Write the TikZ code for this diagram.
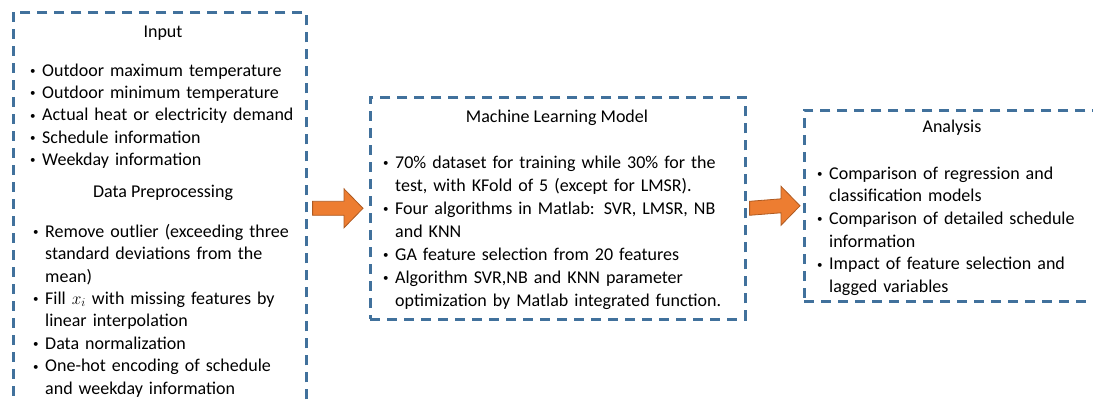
\documentclass[tikz,border=0pt]{standalone}
\usepackage{fontspec}
\setmainfont{Carlito}
\usepackage{xcolor}
\usetikzlibrary{arrows.meta,positioning,calc}

\definecolor{boxblue}{RGB}{65,113,156}
\definecolor{arroworange}{RGB}{237,125,49}
\definecolor{arrowedge}{RGB}{174,90,33}

% one bullet line with hanging indent
\newcommand{\bitem}[1]{\hangindent=13pt\hangafter=1\noindent\rule{0pt}{15pt}%
  \makebox[13pt][l]{\hspace{1pt}\raisebox{1.6pt}{\fontsize{11}{11}\selectfont\textbullet}}#1\par}

% block arrow from tail coordinate #1 to tip coordinate #2
\newcommand{\blockarrow}[2]{%
  \filldraw[flow] ($(#1)+(0,-7)$) -- ($(#2)+(-19,0)+(0,-7)$) -- ($(#2)+(-19,-19.5)$)
    -- (#2) -- ($(#2)+(-19,19.5)$) -- ($(#2)+(-19,0)+(0,7)$) -- ($(#1)+(0,7)$) -- cycle;}

\begin{document}
\begin{tikzpicture}[
  x=1pt,
  y=-1pt,
  dbox/.style={draw=boxblue, line width=2.6pt, dash pattern=on 10pt off 7pt, inner sep=0pt, anchor=north west},
  title/.style={font=\fontsize{18}{22.5}\selectfont, anchor=base, inner sep=0pt},
  items/.style={font=\fontsize{18}{#1}\selectfont, align=left, anchor=north west, inner sep=0pt},
  flow/.style={fill=arroworange, draw=arrowedge, line width=0.8pt, line join=miter}
]
\useasboundingbox (0,0) rectangle (1093,400);
\clip (0,0) rectangle (1093,400);

% Dashed frames.
\node[dbox, minimum width=293pt, minimum height=400pt] (input) at (12,11) {};
\node[dbox, minimum width=375pt, minimum height=222pt] (ml) at (369,96) {};
\node[dbox, minimum width=300pt, minimum height=191pt] (ana) at (803,109) {};

% Input and preprocessing.
\node[title] (inputtitle) at (163,37) {Input};
\node[items=22.3, text width=275pt] (inputlist) at (29,61) {%
  \bitem{Outdoor maximum temperature}
  \bitem{Outdoor minimum temperature}
  \bitem{Actual heat or electricity demand}
  \bitem{Schedule information}
  \bitem{Weekday information}};
\node[title] (preptitle) at (163,197) {Data Preprocessing};
\node[items=22.4, text width=275pt] (preplist) at (32,222) {%
  \bitem{Remove outlier (exceeding three\newline standard deviations from the\newline mean)}
  \bitem{Fill $x_i$ with missing features by\newline linear interpolation}
  \bitem{Data normalization}
  \bitem{One-hot encoding of schedule\newline and weekday information}};

% Model.
\node[title] (mltitle) at (557,122) {Machine Learning Model};
\node[items=23, text width=355pt] (mllist) at (382,153) {%
  \bitem{70\% dataset for training while 30\% for the\newline test, with KFold of 5 (except for LMSR).}
  \bitem{Four algorithms in Matlab: SVR, LMSR, NB\newline and KNN}
  \bitem{GA feature selection from 20 features}
  \bitem{Algorithm SVR,NB and KNN parameter\newline optimization by Matlab integrated function.}};

% Analysis.
\node[title] (anatitle) at (952,132) {Analysis};
\node[items=22.6, text width=270pt] (analist) at (816,164) {%
  \bitem{Comparison of regression and\newline classification models}
  \bitem{Comparison of detailed schedule\newline information}
  \bitem{Impact of feature selection and\newline lagged variables}};

% Block arrows.
\coordinate (tail1) at ($(input.east |- ml.west)+(5,0)$);
\coordinate (tip1) at ($(ml.west)+(-6,0)$);
\coordinate (tail2) at ($(ml.east)+(3,0)$);
\coordinate (tip2) at ($(ana.west)+(-3,0)$);
\blockarrow{tail1}{tip1}
\blockarrow{tail2}{tip2}
\end{tikzpicture}
\end{document}
